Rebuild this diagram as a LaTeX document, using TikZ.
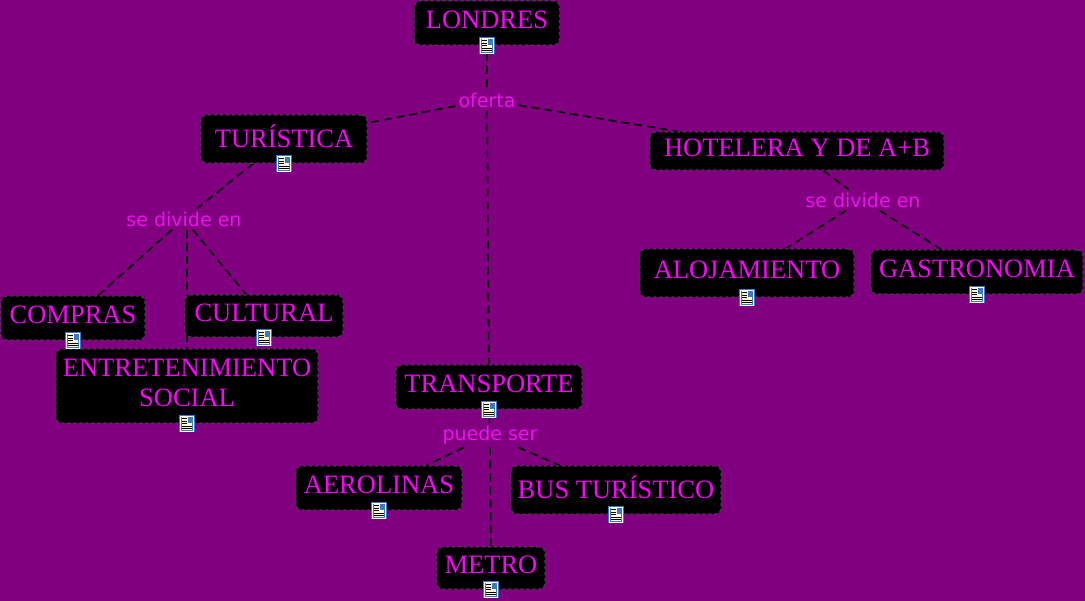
\documentclass[tikz,border=0pt]{standalone}
\usepackage{fontspec}
\setmainfont{Liberation Serif}
\newfontfamily\labelfont{DejaVu Sans}
\usepackage{tikz}
\usetikzlibrary{backgrounds}
\definecolor{plum}{HTML}{800080}
\definecolor{pinktext}{HTML}{FF00FF}
\definecolor{pinklabel}{HTML}{F010F0}
\definecolor{iconblue}{HTML}{3C78C8}
\definecolor{iconpage}{HTML}{FFF8D0}
\tikzset{
    conceptbox/.style={draw=black!75, dashed, line width=1.2pt, fill=black, rounded corners=6pt, text=pinktext, align=center, inner sep=0pt, text depth=6pt, font=\fontsize{26.5}{30}\selectfont},
    linklabel/.style={text=pinklabel, inner sep=3pt, font=\labelfont\fontsize{19}{22}\selectfont},
    linkline/.style={black, line width=1.6pt, dash pattern=on 8pt off 5pt},
    docicon/.style={draw=iconblue, line width=.8pt, double=white, double distance=1pt, fill=iconpage, minimum width=13pt, minimum height=15pt, inner sep=0pt,
        path picture={
            \fill[iconblue] ([shift={(.5pt,1pt)}]path picture bounding box.center) rectangle ++(5pt,6pt);
            \foreach \k in {-5,-2.5,0,2.5,5} {
                \draw[black, line width=.7pt] ([shift={(-5pt,\k pt)}]path picture bounding box.center) -- ++(5pt,0pt);
            }
            \draw[black, line width=.7pt] ([shift={(-5pt,-5pt)}]path picture bounding box.center) -- ++(10pt,0pt);
            \draw[black, line width=.7pt] ([shift={(-5pt,-2.5pt)}]path picture bounding box.center) -- ++(10pt,0pt);
        }},
}
\begin{document}
\begin{tikzpicture}[x=1pt,y=-1pt]
\useasboundingbox (0,0) rectangle (1085,601);

\foreach \name/\bx/\by/\bw/\bh/\txt in {
    londres/487/23/145/44/LONDRES,
    turistica/284/139/166/48/TURÍSTICA,
    hotelera/797/151/294/38/HOTELERA Y DE A+B,
    compras/73/318/144/44/COMPRAS,
    cultural/264/316/158/42/CULTURAL,
    entretenimiento/187/386/262/74/{ENTRETENIMIENTO\\SOCIAL},
    transporte/489/387/186/44/TRANSPORTE,
    aerolinas/379/488/166/44/AEROLINAS,
    bus/616/490/210/48/BUS TURÍSTICO,
    metro/491/568/108/42/METRO,
    alojamiento/747/273/214/48/ALOJAMIENTO,
    gastronomia/977/272/212/44/GASTRONOMIA} {
    \node[conceptbox, minimum width=\bw pt, minimum height=\bh pt] (\name) at (\bx,\by) {\txt};
}

\foreach \name in {londres,turistica,compras,cultural,entretenimiento,transporte,aerolinas,bus,metro,alojamiento,gastronomia} {
    \node[docicon] (\name-icon) at (\name.south) {};
}

\node[linklabel] (oferta) at (487,100) {oferta};
\node[linklabel] (dividetur) at (184,219) {se divide en};
\node[linklabel] (dividehot) at (863,200) {se divide en};
\node[linklabel] (puede) at (490,435) {puede ser};

\begin{scope}[on background layer]
\fill[plum] (0,0) rectangle (1085,601);
\foreach \from/\to in {londres-icon/oferta, oferta/turistica, oferta/hotelera, oferta/transporte,
    turistica/dividetur, dividetur/compras, dividetur/cultural,
    hotelera/dividehot, dividehot/alojamiento, dividehot/gastronomia,
    transporte-icon/puede, puede/aerolinas, puede/bus, puede/metro} {
    \draw[linkline] (\from) -- (\to);
}
\draw[linkline] (dividetur.south -| entretenimiento) -- (entretenimiento);
\end{scope}
\end{tikzpicture}
\end{document}
